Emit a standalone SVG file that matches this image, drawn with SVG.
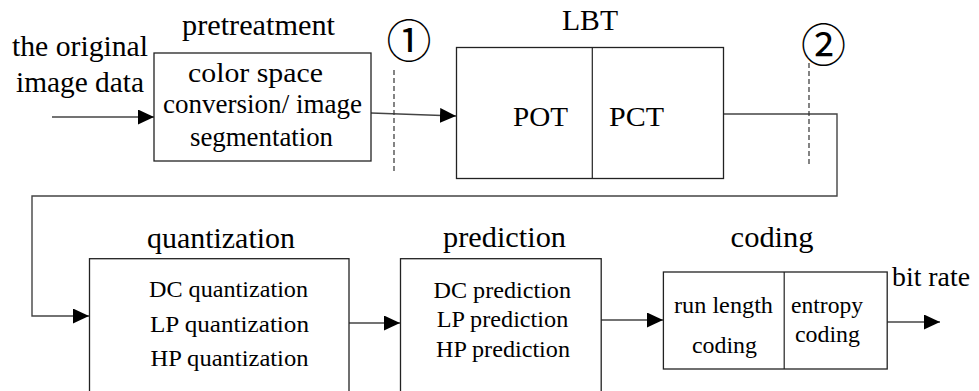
<svg xmlns="http://www.w3.org/2000/svg" width="979" height="391" viewBox="0 0 979 391">
<defs>
<marker id="arr" markerUnits="userSpaceOnUse" markerWidth="17" markerHeight="16" refX="16" refY="7.5" orient="auto">
<path d="M0,0 L16,7.5 L0,15 Z" fill="#000"/>
</marker>
<style>
.box{fill:#fff;stroke:#222;stroke-width:1.3}
.div{stroke:#222;stroke-width:1.2}
.con{fill:none;stroke:#444;stroke-width:1.4}
.dash{stroke:#333;stroke-width:1.2;stroke-dasharray:5,3}
.lbl{font-family:'Liberation Serif','Times New Roman',serif;fill:#000}
.t30{font-size:30px}
.t28{font-size:28px}
.t24{font-size:24px}
.circ{font-family:'Noto Sans CJK JP','Noto Sans CJK SC',sans-serif;font-size:45px;fill:#000}
</style>
</defs>
<rect width="979" height="391" fill="#fff"/>

<g id="connectors">
<line class="con" x1="52" y1="117" x2="154" y2="117" marker-end="url(#arr)"/>
<line class="con" x1="371" y1="113" x2="456" y2="116" marker-end="url(#arr)"/>
<polyline class="con" points="723,114 837,114 837,196 32,196 32,316 89,316" marker-end="url(#arr)"/>
<line class="con" x1="349" y1="323" x2="400" y2="323" marker-end="url(#arr)"/>
<line class="con" x1="601" y1="320" x2="663" y2="320" marker-end="url(#arr)"/>
<line class="con" x1="887" y1="322" x2="940" y2="322" marker-end="url(#arr)"/>
</g>

<g id="input" class="lbl">
<text class="t30" x="12" y="56" textLength="136" lengthAdjust="spacingAndGlyphs">the original</text>
<text class="t30" x="16" y="92" textLength="128" lengthAdjust="spacingAndGlyphs">image data</text>
</g>

<g id="pretreatment" class="lbl">
<text class="t30" x="182" y="35" textLength="153" lengthAdjust="spacingAndGlyphs">pretreatment</text>
<rect class="box" x="154" y="53" width="217" height="108"/>
<text class="t28" x="188" y="82" textLength="135" lengthAdjust="spacingAndGlyphs">color space</text>
<text class="t28" x="163" y="113" textLength="199" lengthAdjust="spacingAndGlyphs">conversion/ image</text>
<text class="t28" x="190" y="146" textLength="143" lengthAdjust="spacingAndGlyphs">segmentation</text>
</g>

<g id="marker1">
<line class="dash" x1="394" y1="70" x2="394" y2="172"/>
<text class="circ" x="409" y="58" text-anchor="middle">①</text>
</g>

<g id="lbt" class="lbl">
<text class="t30" x="562" y="30" textLength="56" lengthAdjust="spacingAndGlyphs">LBT</text>
<rect class="box" x="456.5" y="47.5" width="267" height="131"/>
<line class="div" x1="592.3" y1="47.5" x2="592.3" y2="178.5"/>
<text class="t28" x="513" y="126" textLength="55" lengthAdjust="spacingAndGlyphs">POT</text>
<text class="t28" x="609" y="126" textLength="55" lengthAdjust="spacingAndGlyphs">PCT</text>
</g>

<g id="marker2">
<line class="dash" x1="809" y1="63" x2="809" y2="166"/>
<text class="circ" x="823.5" y="62" text-anchor="middle">②</text>
</g>

<g id="quantization" class="lbl">
<text class="t30" x="147" y="248" textLength="148" lengthAdjust="spacingAndGlyphs">quantization</text>
<rect class="box" x="89.5" y="258.7" width="259.5" height="160"/>
<text class="t24" x="149" y="297" textLength="159" lengthAdjust="spacingAndGlyphs">DC quantization</text>
<text class="t24" x="150" y="331.5" textLength="159" lengthAdjust="spacingAndGlyphs">LP quantization</text>
<text class="t24" x="150.5" y="366" textLength="158" lengthAdjust="spacingAndGlyphs">HP quantization</text>
</g>

<g id="prediction" class="lbl">
<text class="t30" x="443" y="247" textLength="123" lengthAdjust="spacingAndGlyphs">prediction</text>
<rect class="box" x="400.5" y="258.7" width="200.7" height="160"/>
<text class="t24" x="433.5" y="298" textLength="137.5" lengthAdjust="spacingAndGlyphs">DC prediction</text>
<text class="t24" x="436.7" y="327" textLength="131.6" lengthAdjust="spacingAndGlyphs">LP prediction</text>
<text class="t24" x="436" y="356.5" textLength="134" lengthAdjust="spacingAndGlyphs">HP prediction</text>
</g>

<g id="coding" class="lbl">
<text class="t30" x="730.6" y="247" textLength="83" lengthAdjust="spacingAndGlyphs">coding</text>
<rect class="box" x="663.4" y="272" width="223.8" height="97"/>
<line class="div" x1="784.2" y1="272" x2="784.2" y2="369"/>
<text class="t24" x="674" y="313" textLength="99" lengthAdjust="spacingAndGlyphs">run length</text>
<text class="t24" x="692" y="353" textLength="65" lengthAdjust="spacingAndGlyphs">coding</text>
<text class="t24" x="791" y="313" textLength="72" lengthAdjust="spacingAndGlyphs">entropy</text>
<text class="t24" x="795" y="342" textLength="65" lengthAdjust="spacingAndGlyphs">coding</text>
</g>

<g id="output" class="lbl">
<text class="t28" x="892" y="286" textLength="78" lengthAdjust="spacingAndGlyphs">bit rate</text>
</g>
</svg>
